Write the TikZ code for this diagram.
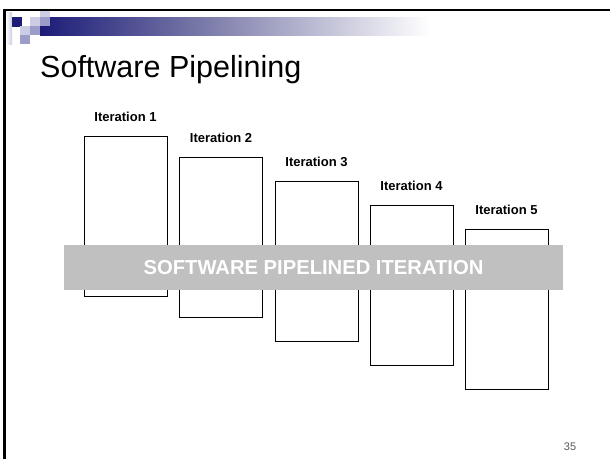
\documentclass[tikz,border=0pt]{standalone}
\usepackage{fontspec}
\setmainfont{Liberation Sans}
\definecolor{navy}{HTML}{1C1C78}
\definecolor{midlav}{HTML}{9C9CC8}
\definecolor{litlav}{HTML}{CCCCE4}
\definecolor{fadelav}{HTML}{7878A8}
\definecolor{bandgray}{HTML}{C0C0C0}
\begin{document}
\begin{tikzpicture}[x=1pt,y=-1pt,
  iterbox/.style={draw=black, line width=0.8pt, fill=white, minimum width=83pt,
    minimum height=160pt, inner sep=0pt, outer sep=0pt},
  iterlabel/.style={font=\fontsize{13}{15}\selectfont\bfseries, anchor=base, inner sep=0pt},
  bandbox/.style={fill=bandgray, minimum width=499pt, minimum height=45pt, inner sep=0pt,
    text=white, font=\fontsize{20.2}{22}\selectfont\bfseries},
  title/.style={font=\fontsize{30.5}{34}\selectfont, anchor=base west, inner sep=0pt},
  pagenum/.style={font=\fontsize{11}{13}\selectfont, text=black!65, anchor=base, inner sep=0pt}]
  \useasboundingbox (0,0) rectangle (610,459);
  \fill[white] (0,0) rectangle (610,459);

  % slide header: fading bar and small squares
  \shade[left color=navy, right color=fadelav] (40,17) rectangle (200,35);
  \shade[left color=fadelav, right color=white] (200,17) rectangle (430,35);
  \shade[left color=white, right color=litlav] (6,12) rectangle (12,44);
  \fill[navy] (12,17) rectangle (22,27);
  \fill[litlav] (30,17) rectangle (40,26);
  \fill[litlav] (40,10) rectangle (50,17);
  \fill[midlav] (40,17) rectangle (50,26);
  \fill[litlav] (20,26) rectangle (30,35);
  \fill[midlav] (30,26) rectangle (40,35);
  \fill[midlav] (20,35) rectangle (30,44);

  % slide frame (top and left edges)
  \draw[line width=2.6pt] (4.3,459) -- (4.3,10) -- (610,10);

  \node[title] (ttl) at (40,77) {Software Pipelining};

  % staggered iterations
  \node[iterbox] (b1) at (125.5,216) {};
  \node[iterbox] (b2) at (221,237.5) {};
  \node[iterbox] (b3) at (316.5,261) {};
  \node[iterbox] (b4) at (411.5,285) {};
  \node[iterbox] (b5) at (506.5,309.5) {};

  \foreach \i in {1,...,5} {
    \node[iterlabel] (l\i) at ([yshift=15pt]b\i.north) {Iteration \i};
  }

  % overlapping region
  \node[bandbox] (band) at (313.5,267.5) {SOFTWARE PIPELINED ITERATION};

  \node[pagenum] (pg) at (570,450) {35};
\end{tikzpicture}
\end{document}
